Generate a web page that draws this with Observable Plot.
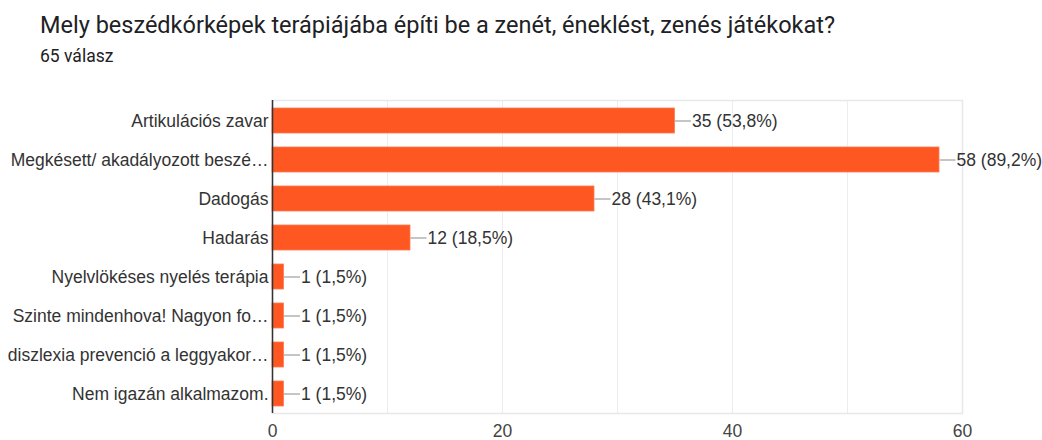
<!DOCTYPE html>
<html>
<head>
<meta charset="utf-8">
<script src="https://cdn.jsdelivr.net/npm/d3@7"></script>
<script src="https://cdn.jsdelivr.net/npm/@observablehq/plot@0.6"></script>
<style>
  html, body { margin: 0; padding: 0; background: #fff; }
  #wrap { position: relative; width: 1042px; height: 440px; overflow: hidden; }
  #title { position: absolute; left: 40px; top: 11px; font: 23.5px Roboto, "Liberation Sans", sans-serif; color: #202124; white-space: nowrap; }
  #sub { position: absolute; left: 40px; top: 46px; font: 17.5px Roboto, "Liberation Sans", sans-serif; color: #202124; white-space: nowrap; }
  #chart { position: absolute; left: 0; top: 80px; }
</style>
</head>
<body>
<div id="wrap">
  <div id="title">Mely beszédkórképek terápiájába építi be a zenét, éneklést, zenés játékokat?</div>
  <div id="sub">65 válasz</div>
  <div id="chart"></div>
</div>
<script>
const categories = [
  "Artikulációs zavar",
  "Megkésett/ akadályozott beszé…",
  "Dadogás",
  "Hadarás",
  "Nyelvlökéses nyelés terápia",
  "Szinte mindenhova! Nagyon fo…",
  "diszlexia prevenció a leggyakor…",
  "Nem igazán alkalmazom."
];
const counts = [35, 58, 28, 12, 1, 1, 1, 1];
const percents = ["53,8%", "89,2%", "43,1%", "18,5%", "1,5%", "1,5%", "1,5%", "1,5%"];
const xTicks = [0, 20, 40, 60];
const gridValues = [10, 20, 30, 40, 50, 60];

const data = categories.map((c, i) => ({cat: c, value: counts[i], label: `${counts[i]} (${percents[i]})`}));

const connector = {
  draw(context) {
    context.moveTo(0, 0);
    context.lineTo(16, 0);
  }
};

const chart = Plot.plot({
  width: 1042,
  height: 360,
  marginLeft: 272,
  marginRight: 80,
  marginTop: 20,
  marginBottom: 27,
  style: {fontFamily: '"Liberation Sans", Arial, sans-serif', fontSize: "17.5px", color: "#333", background: "#fff"},
  x: {domain: [0, 60], ticks: xTicks, tickSize: 0, tickPadding: 11, label: null, tickFormat: d => String(d)},
  y: {domain: categories, paddingInner: 0.36, paddingOuter: 0.19, tickSize: 0, tickPadding: 4, label: null},
  marks: [
    Plot.ruleX(gridValues, {stroke: "#ededed", strokeWidth: 1}),
    Plot.frame({stroke: "#e8e8e8", strokeWidth: 1.5}),
    Plot.barX(data, {y: "cat", x: "value", fill: "#ff5722", stroke: "#ff7a50", strokeWidth: 0.8}),
    Plot.dot(data, {y: "cat", x: "value", symbol: connector, stroke: "#9e9e9e", strokeWidth: 1.2, fill: "none"}),
    Plot.text(data, {y: "cat", x: "value", text: "label", dx: 17, textAnchor: "start", fill: "#333", fontSize: 17.5}),
    Plot.ruleX([0], {stroke: "#333", strokeWidth: 1.5}),
    Plot.axisY({tickSize: 0, tickPadding: 4, fontSize: 17.5, fill: "#333"}),
    Plot.axisX({ticks: xTicks, tickSize: 0, tickPadding: 11, fontSize: 17.5, fill: "#444"})
  ]
});
document.getElementById("chart").appendChild(chart);
</script>
</body>
</html>
